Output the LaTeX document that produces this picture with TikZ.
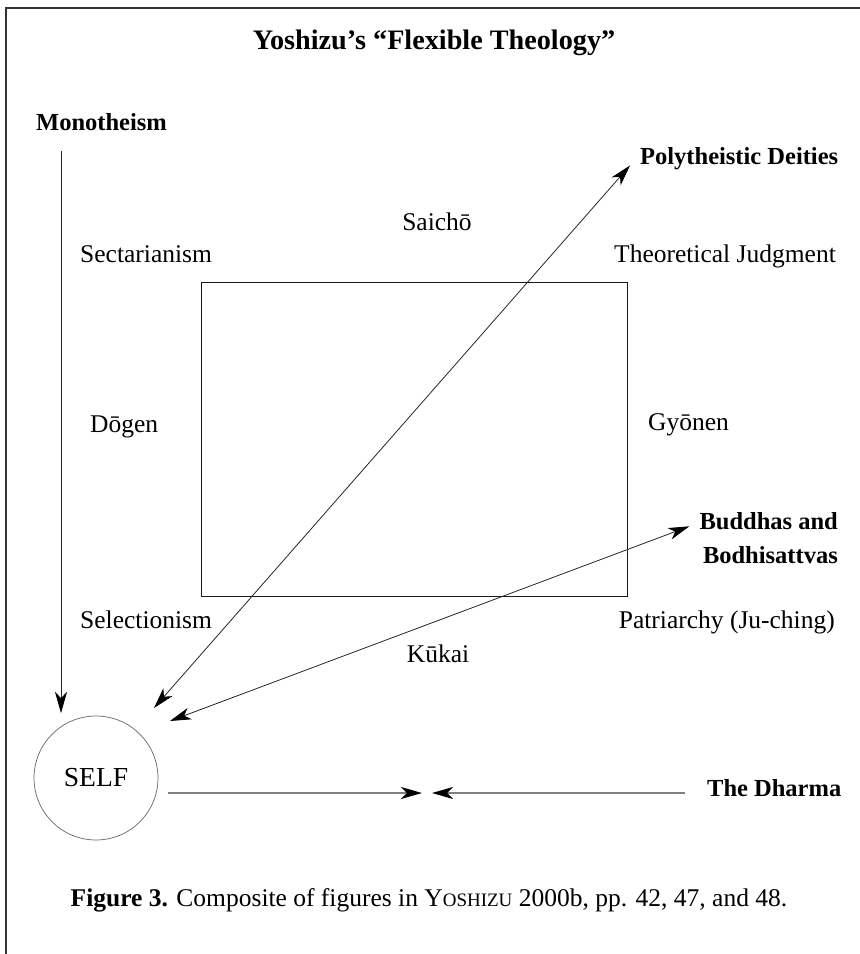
\documentclass[tikz,border=0pt]{standalone}
\usepackage{fontspec}
\setmainfont{Liberation Serif}
\usetikzlibrary{positioning,arrows.meta}

\begin{document}
\begin{tikzpicture}[
		x=1pt,y=-1pt,
		lbl/.style={font=\fontsize{25.5}{30}\selectfont,inner sep=0pt},
		head/.style={font=\bfseries\fontsize{24.5}{34}\selectfont,inner sep=0pt},
		stl/.tip={Stealth[length=21pt,width=12pt,inset=6pt,black]},
		arr/.style={-stl,line width=0.8pt,draw=black!85},
		darr/.style={stl-stl,line width=0.8pt,draw=black!85},
		harr/.style={-stl,line width=1.5pt,draw=black!50}
		]
		\useasboundingbox (0,0) rectangle (860,954);
		\draw[line width=2pt,black!80] (860,8) -- (6,8) -- (6,954);
		\node[font=\bfseries\fontsize{28.2}{34}\selectfont,anchor=base] (title) at (434,49)
		{Yoshizu’s “Flexible Theology”};
		% corners of the square
		\node[draw=black!90,line width=1.3pt,minimum width=426pt,minimum height=314pt,anchor=north west] (square) at (201,282) {};
		\node[lbl,anchor=base west] (sect) at (80,262) {Sectarianism};
		\node[lbl,anchor=base] (saicho) at (437,230) {Saichō};
		\node[lbl,anchor=base east] (theo) at (836,262) {Theoretical Judgment};
		\node[lbl,anchor=base west] (dogen) at (90,432) {Dōgen};
		\node[lbl,anchor=base west] (gyonen) at (648,430) {Gyōnen};
		\node[lbl,anchor=base west] (selec) at (80,628) {Selectionism};
		\node[lbl,anchor=base east] (patr) at (835,628) {Patriarchy (Ju-ching)};
		\node[lbl,anchor=base] (kukai) at (438,662) {Kūkai};
		% outer labels
		\node[head,anchor=base west] (mono) at (36,130) {Monotheism};
		\node[head,anchor=base west] (poly) at (640,164) {Polytheistic Deities};
		\node[head,align=right,anchor=north east] (budd) at (838,512) {Buddhas and\\Bodhisattvas};
		\node[head,anchor=base west] (dharma) at (707,796) {The Dharma};
		\node[draw=black!60,line width=0.7pt,circle,minimum size=124pt,inner sep=0pt,
		font=\fontsize{27.5}{30}\selectfont] (self) at (96,778) {SELF};
		\coordinate (monotip) at (61,713);
		\coordinate (meet) at (427,793);
		\draw[arr] (mono.south -| monotip) ++(0,21) -- (monotip);
		\draw[darr] ([shift={(58,-70)}]self.center) -- ([shift={(-10,-4)}]poly.south west);
		\draw[darr] ([shift={(74,-57)}]self.center) -- ([shift={(-10,-11.5)}]budd.west);
		\draw[harr] ([shift={(10,15)}]self.east) -- ([xshift=-5pt]meet);
		\draw[harr] ([shift={(-22,-3)}]dharma.base west) -- ([xshift=5pt]meet);
		\node[lbl,anchor=base] (caption) at (429,906)
		{\textbf{Figure 3.} Composite of figures in Y{\fontsize{19}{20}\selectfont OSHIZU} 2000b, pp. 42, 47, and 48.};
	\end{tikzpicture}
\end{document}
